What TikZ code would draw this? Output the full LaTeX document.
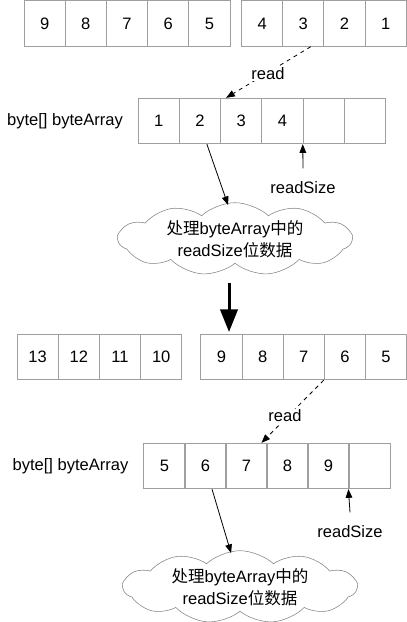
\documentclass[tikz,border=0pt]{standalone}
\usepackage{fontspec}
\setmainfont{Liberation Sans}
\newfontfamily\cjk{Noto Sans CJK SC}
\usetikzlibrary{arrows.meta,shapes.symbols,positioning}

\begin{document}
\begin{tikzpicture}[x=0.75pt,y=-0.75pt,font=\fontsize{12.4}{16.5}\selectfont,
  cell/.style={draw=gray!75,line width=0.75pt,minimum width=30.9pt,minimum height=34pt,inner sep=0pt},
  lbl/.style={inner sep=1pt},
  tip/.style={-{Triangle[length=6.5pt,width=5pt]},line width=0.6pt},
  readarrow/.style={tip,dash pattern=on 3pt off 3pt},
  bigarrow/.style={-{Triangle[length=17pt,width=13pt]},line width=2.25pt},
  bubble/.style={cloud,cloud puffs=11,cloud puff arc=85,aspect=3.8,draw=gray,fill=white,
    minimum width=175pt,minimum height=46pt,align=center,inner sep=0pt}]
  \useasboundingbox (0,0) rectangle (407,622);
  % ---- first round
  \foreach \v [count=\i] in {9,8,7,6,5}
    \node[cell] (a\i) at (24+41.2*\i-20.6,23.5) {\v};
  \foreach \v [count=\i] in {4,3,2,1}
    \node[cell] (b\i) at (241.5+41.2*\i-20.6,23.5) {\v};
  \foreach \v [count=\i] in {1,2,3,4,{},{}}
    \node[cell] (c\i) at (138+41.3*\i-20.65,121) {\v};
  \node[lbl] (arr1) at (65,121) {byte[] byteArray};
  \draw[readarrow] ([xshift=5.6pt]b2.south) -- ([xshift=4.5pt]c3.north west);
  \node[lbl,fill=white] (read1) at (268,74) {read};
  \node[lbl] (size1) at (303,188) {readSize};
  \draw[tip] ([yshift=9pt]size1.north) -- (c5.south west);
  \node[bubble] (proc1) at (235,239) {{\cjk 处理}byteArray{\cjk 中的}\\readSize{\cjk 位数据}};
  \draw[tip] ([xshift=5.2pt]c2.south) -- ([xshift=-5.2pt,yshift=-2pt]proc1.north);
  % ---- next round
  \coordinate (bigfrom) at (229,283);
  \coordinate (bigto) at (229,332);
  \draw[bigarrow] (bigfrom) -- (bigto);
  \foreach \v [count=\i] in {13,12,11,10}
    \node[cell] (d\i) at (17+41.2*\i-20.6,357) {\v};
  \foreach \v [count=\i] in {9,8,7,6,5}
    \node[cell] (e\i) at (201+41.1*\i-20.55,357) {\v};
  \foreach \v [count=\i] in {5,6,7,8,9,{}}
    \node[cell] (f\i) at (144+41*\i-20.5,466) {\v};
  \node[lbl] (arr2) at (70.5,466) {byte[] byteArray};
  \draw[readarrow] (e4.south west) -- ([xshift=-3.7pt]f4.north west);
  \node[lbl,fill=white] (read2) at (285,416) {read};
  \node[lbl] (size2) at (350,532) {readSize};
  \draw[tip] ([yshift=9pt]size2.north) -- (f6.south west);
  \node[bubble] (proc2) at (240,587) {{\cjk 处理}byteArray{\cjk 中的}\\readSize{\cjk 位数据}};
  \draw[tip] ([xshift=4.9pt]f2.south) -- ([xshift=-6.7pt,yshift=-2pt]proc2.north);
\end{tikzpicture}
\end{document}
